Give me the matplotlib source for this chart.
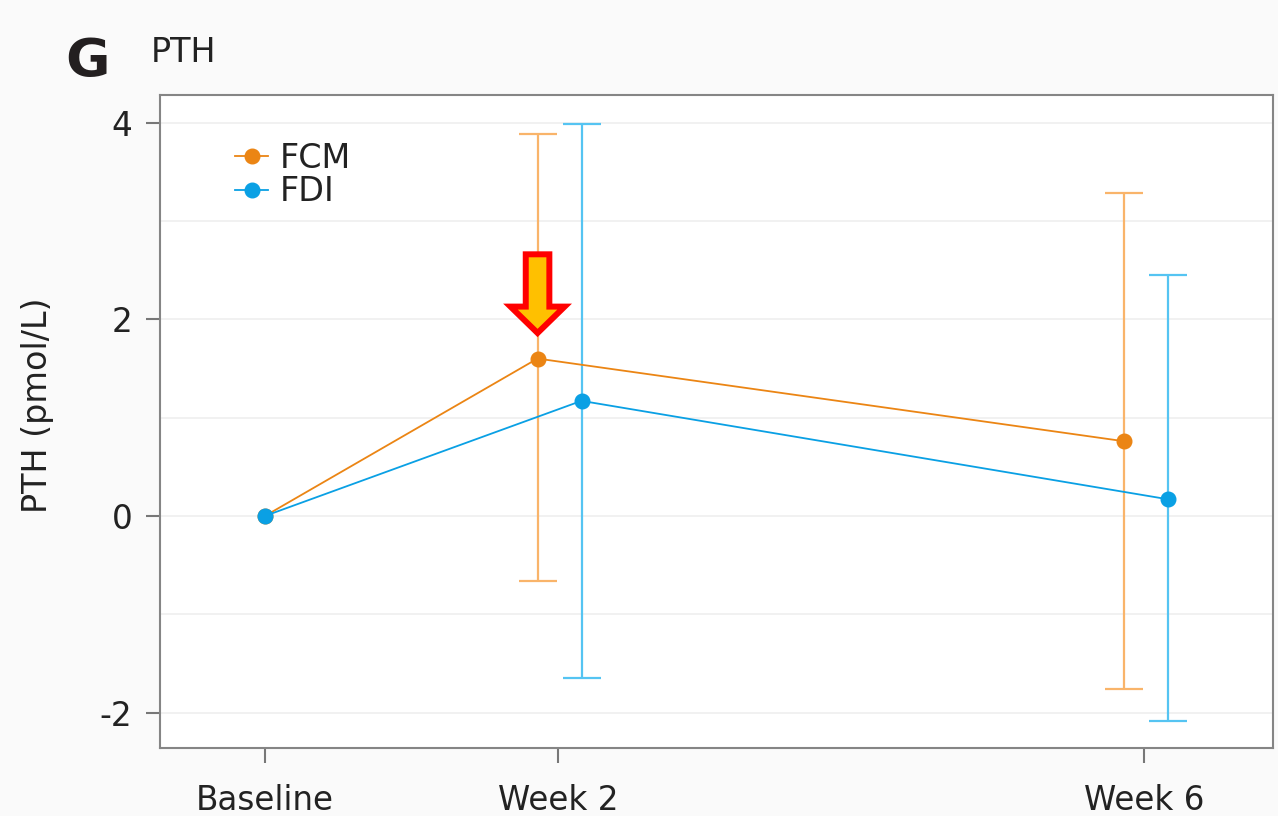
import numpy as np
import matplotlib
matplotlib.use("Agg")
import matplotlib.pyplot as plt

plt.rcParams['font.family'] = ['DejaVu Sans']
plt.rcParams['axes.unicode_minus'] = False

# data
timepoints = ["Baseline", "Week 2", "Week 6"]
weeks = [0, 2, 6]

fcm_mean = [0.0, 1.60, 0.76]
fcm_low = [0.0, -0.66, -1.76]
fcm_high = [0.0, 3.88, 3.28]

fdi_mean = [0.0, 1.17, 0.17]
fdi_low = [0.0, -1.65, -2.09]
fdi_high = [0.0, 3.99, 2.45]

orange, orange_light = "#EB8514", "#F9B46A"
blue, blue_light = "#0AA0E4", "#55C4F2"

fig = plt.figure(figsize=(12.78, 8.16), dpi=100, facecolor="#fafafa")
ax = fig.add_axes([0.1252, 0.0833, 0.8709, 0.8003])
ax.set_facecolor("white")

w = np.array(weeks, dtype=float)
# small dodge at the follow-up visits, none at baseline
x_fcm = w - np.array([0, 0.14, 0.14])
x_fdi = w + np.array([0, 0.16, 0.16])


def draw(x, mean, low, high, c, c_err, label):
    mean = np.array(mean)
    yerr = [mean - np.array(low), np.array(high) - mean]
    ax.errorbar(x[1:], mean[1:], yerr=[yerr[0][1:], yerr[1][1:]], fmt="none",
                ecolor=c_err, elinewidth=1.6, capsize=14, capthick=1.6, zorder=2)
    ax.plot(x, mean, color=c, lw=1.3, marker="o", ms=10.5, mec=c, mfc=c,
            label=label, zorder=3)


draw(x_fcm, fcm_mean, fcm_low, fcm_high, orange, orange_light, "FCM")
draw(x_fdi, fdi_mean, fdi_low, fdi_high, blue, blue_light, "FDI")

ax.set_xlim(-0.717, 6.88)
ax.set_ylim(-2.36, 4.28)
ax.set_xticks(weeks)
ax.set_xticklabels(timepoints)
ax.set_yticks([-2, 0, 2, 4])
ax.set_yticks(np.arange(-2, 5, 1), minor=True)
ax.grid(True, which="both", axis="y", color="#efefef", lw=1.2, zorder=0)
ax.set_axisbelow(True)

for s in ax.spines.values():
    s.set_color("#858585")
    s.set_linewidth(1.5)
ax.tick_params(axis="both", which="major", color="#777777", width=1.5,
               labelsize=23.5, labelcolor="#222222")
ax.tick_params(axis="x", length=11, pad=15)
ax.tick_params(axis="y", length=10, pad=10)
ax.tick_params(axis="y", which="minor", length=0)

ax.set_ylabel("PTH (pmol/L)", fontsize=24, color="#222222")
ax.yaxis.label.set_va("center")
ax.yaxis.set_label_coords(-0.1105, 0.525)

leg = ax.legend(loc="upper left", bbox_to_anchor=(0.045, 0.967), fontsize=24,
                handlelength=1.0, handletextpad=0.35, labelspacing=0.02,
                borderpad=0.25, frameon=True, fancybox=False)
leg.get_frame().set_facecolor("white")
leg.get_frame().set_edgecolor("none")
leg.get_frame().set_alpha(1)
for t in leg.get_texts():
    t.set_color("#222222")

# highlight arrow pointing at FCM week 2
ax.annotate("", xy=(x_fcm[1], 1.86), xytext=(x_fcm[1], 2.66),
            arrowprops=dict(arrowstyle="simple,head_length=1.9,head_width=3.9,tail_width=1.7",
                            fc="#FFC000", ec="#FF0000", lw=4.3, mutation_scale=10,
                            shrinkA=0, shrinkB=0, joinstyle="miter"),
            zorder=5)

fig.text(0.051, 0.906, "G", fontsize=39, fontweight="bold", color="#231f20")
fig.text(0.118, 0.924, "PTH", fontsize=24, color="#222222")

fig.savefig("out.png", dpi=100, facecolor=fig.get_facecolor())
